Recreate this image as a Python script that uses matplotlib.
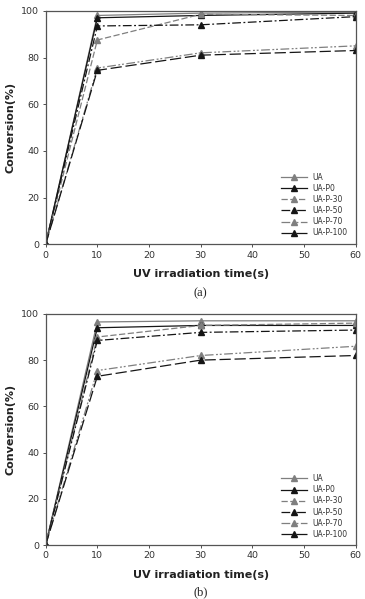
import matplotlib
matplotlib.use('Agg')
import matplotlib.pyplot as plt

# Datos
time_s = [0, 10, 30, 60]
labels = ['UA', 'UA-P0', 'UA-P-30', 'UA-P-50', 'UA-P-70', 'UA-P-100']

conv_a_ua = [0, 98.0, 99.0, 99.5]
conv_a_p0 = [0, 97.0, 98.0, 99.0]
conv_a_p30 = [0, 87.5, 98.5, 98.0]
conv_a_p50 = [0, 93.5, 94.0, 97.5]
conv_a_p70 = [0, 75.5, 82.0, 85.0]
conv_a_p100 = [0, 74.5, 81.0, 83.0]

conv_b_ua = [0, 96.5, 97.0, 97.0]
conv_b_p0 = [0, 94.0, 95.0, 95.0]
conv_b_p30 = [0, 90.0, 95.0, 96.0]
conv_b_p50 = [0, 88.5, 92.0, 93.0]
conv_b_p70 = [0, 75.5, 82.0, 86.0]
conv_b_p100 = [0, 73.0, 80.0, 82.0]

GRAY = '#7f7f7f'
BLACK = '#151515'
styles = [
    (GRAY, '-'),
    (BLACK, '-'),
    (GRAY, (0, (5, 2))),
    (BLACK, (0, (7, 2, 1.5, 2))),
    (GRAY, (0, (7, 2, 1.5, 1.5, 1.5, 2))),
    (BLACK, (0, (9, 3))),
]


def draw_panel(ax, series):
    for y, lab, (c, ls) in zip(series, labels, styles):
        ax.plot(time_s, y, color=c, linestyle=ls, linewidth=0.9,
                marker='^', markersize=4.5, markerfacecolor=c,
                markeredgecolor=c, label=lab)
    ax.set_xlim(0, 60)
    ax.set_ylim(0, 100)
    ax.set_xticks(range(0, 61, 10))
    ax.set_yticks(range(0, 101, 20))
    ax.tick_params(labelsize=6.8, length=2.5, width=0.6, colors='#333333', pad=2)
    for s in ax.spines.values():
        s.set_color('#555555')
        s.set_linewidth(0.9)
    ax.set_xlabel('UV irradiation time(s)', fontsize=8, fontweight='bold',
                  color='#222222', labelpad=7)
    ax.set_ylabel('Conversion(%)', fontsize=8, fontweight='bold',
                  color='#222222', labelpad=4)
    ax.legend(loc='upper left', bbox_to_anchor=(0.74, 0.33), frameon=False,
              fontsize=5.5, handlelength=3.4, labelspacing=0.28,
              handletextpad=0.8, borderpad=0.2, labelcolor='#333333')


fig = plt.figure(figsize=(3.65, 5.99), dpi=100)
ax_a = fig.add_axes([0.125, 0.592, 0.85, 0.39])
ax_b = fig.add_axes([0.125, 0.090, 0.85, 0.386])

draw_panel(ax_a, [conv_a_ua, conv_a_p0, conv_a_p30, conv_a_p50, conv_a_p70, conv_a_p100])
draw_panel(ax_b, [conv_b_ua, conv_b_p0, conv_b_p30, conv_b_p50, conv_b_p70, conv_b_p100])

fig.text(0.55, 1 - 293 / 599, '(a)', ha='center', va='center',
         fontsize=9, family='Liberation Serif', color='#222222')
fig.text(0.55, 0.002, '(b)', ha='center', va='bottom',
         fontsize=9, family='Liberation Serif', color='#222222')

fig.savefig('out.png', dpi=100)
